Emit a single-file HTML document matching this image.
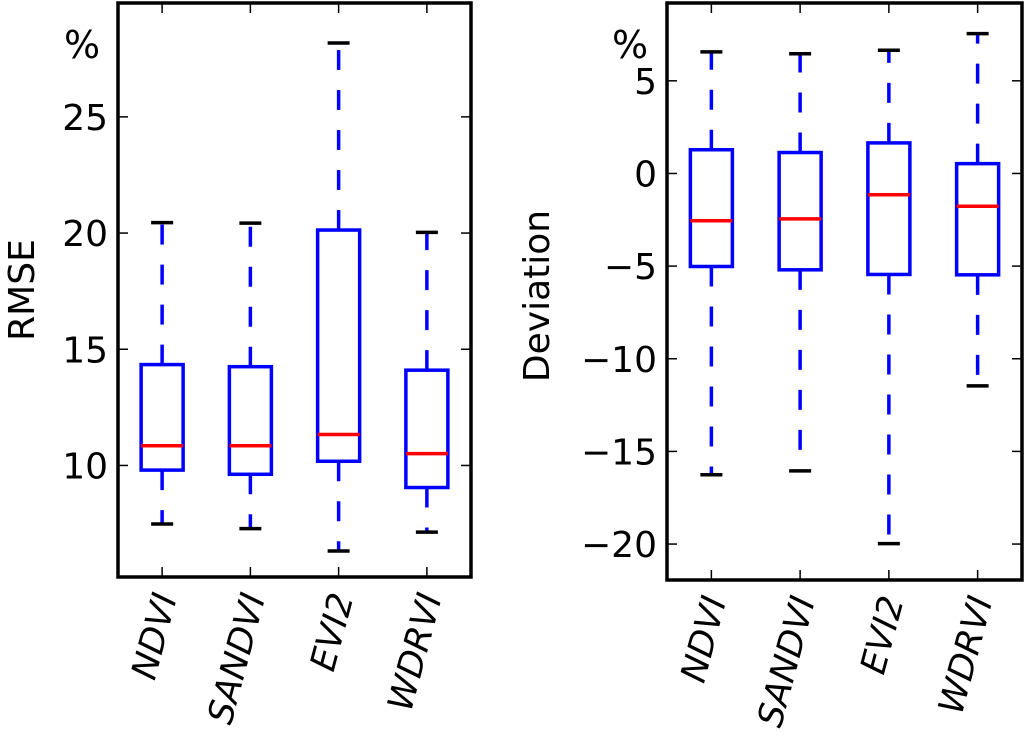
<!DOCTYPE html>
<html><head><meta charset="utf-8"><style>
body{margin:0;background:#fff}
svg{display:block}
text{font-family:"DejaVu Sans","Liberation Sans",sans-serif;fill:#000}
</style></head><body>
<svg id="chart" width="1024" height="741" viewBox="0 0 1024 741"></svg>
<script>
const categories=["NDVI","SANDVI","EVI2","WDRVI"];
const rmseLow=[7.48,7.28,6.32,7.13];
const rmseQ1=[9.8,9.62,10.18,9.05];
const rmseMed=[10.85,10.85,11.33,10.51];
const rmseQ3=[14.34,14.25,20.13,14.1];
const rmseHigh=[20.45,20.43,28.18,20.03];
const rmseTicks=[10,15,20,25];
const devLow=[-16.26,-16.05,-19.98,-11.46];
const devQ1=[-5.02,-5.2,-5.45,-5.47];
const devMed=[-2.55,-2.45,-1.15,-1.77];
const devQ3=[1.28,1.13,1.65,0.53];
const devHigh=[6.56,6.46,6.65,7.55];
const devTicks=[5,0,-5,-10,-15,-20];
const devTickLabels=["5","0","\u22125","\u221210","\u221215","\u221220"];

const NS="http://www.w3.org/2000/svg";
const svg=document.getElementById('chart');
function el(t,a,p){const e=document.createElementNS(NS,t);for(const k in a)e.setAttribute(k,a[k]);(p||svg).appendChild(e);return e;}

function panel(cfg){
  const g=el('g',{});
  
  
  const y=v=>cfg.y0+(cfg.dmax-v)/(cfg.dmax-cfg.dmin)*(cfg.y1-cfg.y0);
  const step=(cfg.x1-cfg.x0)/categories.length;
  const x=i=>cfg.x0+step*(i+0.5);
  cfg.ticks.forEach((t,i)=>{
    const yy=y(t);
    const l=el('line',{x1:cfg.x0,x2:cfg.x0+10,y1:yy,y2:yy,stroke:'#000','stroke-width':1.5},g);
    
    
    el('line',{x1:cfg.x1-10,x2:cfg.x1,y1:yy,y2:yy,stroke:'#000','stroke-width':1.5},g);
    const tx=el('text',{x:cfg.x0-10,y:yy+13,'text-anchor':'end','font-size':36},g);
    tx.textContent=cfg.tickLabels[i];
    
    
  });
  categories.forEach((c,i)=>{
    const cx=x(i),hw=21;
    el('line',{x1:cx,x2:cx,y1:cfg.y0,y2:cfg.y0+10,stroke:'#000','stroke-width':1.5},g);
    el('line',{x1:cx,x2:cx,y1:cfg.y1-10,y2:cfg.y1,stroke:'#000','stroke-width':1.5},g);
    const w1=el('line',{x1:cx,x2:cx,y1:y(cfg.q3[i]),y2:y(cfg.hi[i]),stroke:'#00f','stroke-width':3.5,'stroke-dasharray':'20,20'},g);
    
    
    const w2=el('line',{x1:cx,x2:cx,y1:y(cfg.q1[i]),y2:y(cfg.lo[i]),stroke:'#00f','stroke-width':3.5,'stroke-dasharray':'20,20'},g);
    
    
    [cfg.hi[i],cfg.lo[i]].forEach(v=>{
      const cap=el('line',{x1:cx-11,x2:cx+11,y1:y(v),y2:y(v),stroke:'#000','stroke-width':3.5},g);
      
      
    });
    const b=el('rect',{x:cx-hw,y:y(cfg.q3[i]),width:hw*2,height:y(cfg.q1[i])-y(cfg.q3[i]),fill:'none',stroke:'#00f','stroke-width':3.5},g);
    
    
    const m=el('line',{x1:cx-hw,x2:cx+hw,y1:y(cfg.med[i]),y2:y(cfg.med[i]),stroke:'#f00','stroke-width':3.5},g);
    
    
    const t=el('text',{x:0,y:0,'text-anchor':'end','font-size':35,'font-style':'italic',transform:`translate(${cx+15},${cfg.y1+20}) rotate(-75)`},g);
    t.textContent=c;
    
    
  });
  const f=el('rect',{x:cfg.x0,y:cfg.y0,width:cfg.x1-cfg.x0,height:cfg.y1-cfg.y0,fill:'none',stroke:'#000','stroke-width':3.5},g);
  
  
  const pc=el('text',{x:cfg.pctX,y:58,'font-size':38},g);
  pc.textContent='%';
  
  
  const yl=el('text',{x:0,y:0,'text-anchor':'middle','font-size':36,transform:`translate(${cfg.ylX},${cfg.ylY}) rotate(-90)`},g);
  yl.textContent=cfg.ylabel;
  
  
}
panel({name:'rmse-panel',x0:118,x1:471,y0:3,y1:577,dmin:5.2,dmax:29.9,ticks:rmseTicks,tickLabels:rmseTicks.map(String),
  lo:rmseLow,q1:rmseQ1,med:rmseMed,q3:rmseQ3,hi:rmseHigh,ylabel:'RMSE',ylX:34,ylY:290,pctX:64});
panel({name:'deviation-panel',x0:667,x1:1022,y0:3,y1:580,dmin:-21.94,dmax:9.2,ticks:devTicks,tickLabels:devTickLabels,
  lo:devLow,q1:devQ1,med:devMed,q3:devQ3,hi:devHigh,ylabel:'Deviation',ylX:549,ylY:296,pctX:612});
</script>
</body></html>
